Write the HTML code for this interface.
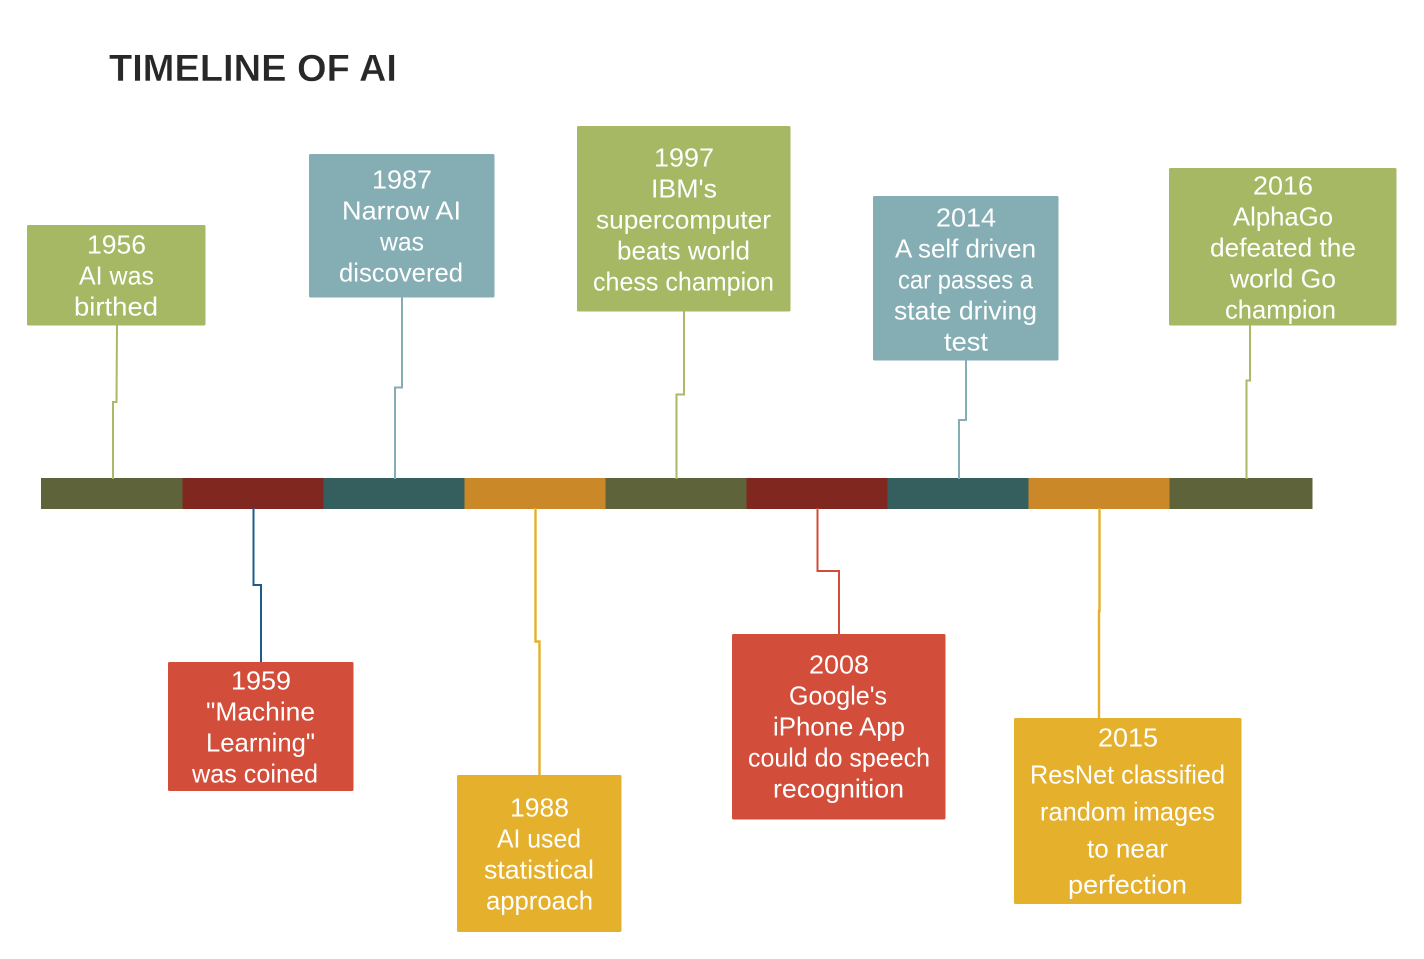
<!DOCTYPE html>
<html lang="en">
<head>
<meta charset="utf-8">
<title>Timeline of AI</title>
<style>
html,body{margin:0;padding:0;background:#fff;width:1424px;height:959px;overflow:hidden}
svg{display:block}
text{font-family:"Liberation Sans",sans-serif}
.t text{fill:#fff;font-size:26px;text-anchor:middle}
path{fill:none;stroke-width:2}
</style>
</head>
<body>
<svg width="1424" height="959" viewBox="0 0 1424 959" xmlns="http://www.w3.org/2000/svg">
<rect width="1424" height="959" fill="#fff"/>
<text x="109" y="81" font-size="38" font-weight="bold" fill="#282828" stroke="#fff" stroke-width="0.4" textLength="288" lengthAdjust="spacingAndGlyphs">TIMELINE OF AI</text>

<!-- bar -->
<rect x="41" y="478" width="141.5" height="31" fill="#5f6339"/>
<rect x="182.500" y="478" width="141" height="31" fill="#802820"/>
<rect x="323.500" y="478" width="141" height="31" fill="#355e5f"/>
<rect x="464.500" y="478" width="141" height="31" fill="#cb8829"/>
<rect x="605.500" y="478" width="141" height="31" fill="#5f6339"/>
<rect x="746.500" y="478" width="141" height="31" fill="#802820"/>
<rect x="887.500" y="478" width="141" height="31" fill="#355e5f"/>
<rect x="1028.500" y="478" width="141" height="31" fill="#cb8829"/>
<rect x="1169.500" y="478" width="143" height="31" fill="#5f6339"/>

<!-- connectors -->
<path d="M117 325L116.500 402H113V479" stroke="#a9ba68"/>
<path d="M402 297V387.500H395V479" stroke="#85aeb4"/>
<path d="M684 311V394.500H676.500V479" stroke="#a9ba68"/>
<path d="M966 360V420H959V479" stroke="#85aeb4"/>
<path d="M1250 325V380.500H1246.500V479" stroke="#a9ba68"/>
<path d="M253.500 508V585H261V662" stroke="#1b5c8a"/>
<path d="M535.500 508V641.500H539.500V775" stroke="#e5b02b" style="stroke-width:2.400"/>
<path d="M817.500 508V571H839V634" stroke="#d34c3a"/>
<path d="M1099.500 508V611H1099V718" stroke="#e5b02b" style="stroke-width:2.400"/>

<!-- boxes -->
<rect x="27" y="225" width="178.500" height="100.500" rx="1.500" fill="#a6b864"/>
<rect x="309" y="154" width="185.500" height="143.500" rx="1.500" fill="#85aeb4"/>
<rect x="577" y="126" width="213.500" height="185.500" rx="1.500" fill="#a6b864"/>
<rect x="873" y="196" width="185.500" height="164.500" rx="1.500" fill="#85aeb4"/>
<rect x="1169" y="168" width="227.500" height="157.500" rx="1.500" fill="#a6b864"/>
<rect x="168" y="662" width="185.500" height="129" rx="1.500" fill="#d24d3a"/>
<rect x="457" y="775" width="164.500" height="157" rx="1.500" fill="#e5b02b"/>
<rect x="732" y="634" width="213.500" height="185.500" rx="1.500" fill="#d24d3a"/>
<rect x="1014" y="718" width="227.500" height="186" rx="1.500" fill="#e5b02b"/>

<g class="t">
<text x="116.500" y="253.500" textLength="59" lengthAdjust="spacingAndGlyphs">1956</text>
<text x="116.500" y="284.500" textLength="75" lengthAdjust="spacingAndGlyphs">AI was</text>
<text x="116" y="315.500" textLength="84" lengthAdjust="spacingAndGlyphs">birthed</text>

<text x="402" y="188.500" textLength="60" lengthAdjust="spacingAndGlyphs">1987</text>
<text x="401.500" y="219.500" textLength="119" lengthAdjust="spacingAndGlyphs">Narrow AI</text>
<text x="402" y="250.500" textLength="44" lengthAdjust="spacingAndGlyphs">was</text>
<text x="401" y="281.500" textLength="124" lengthAdjust="spacingAndGlyphs">discovered</text>

<text x="684" y="166.500" textLength="60" lengthAdjust="spacingAndGlyphs">1997</text>
<text x="684" y="197.500" textLength="66" lengthAdjust="spacingAndGlyphs">IBM's</text>
<text x="683.500" y="228.500" textLength="175" lengthAdjust="spacingAndGlyphs">supercomputer</text>
<text x="683.500" y="259.500" textLength="133" lengthAdjust="spacingAndGlyphs">beats world</text>
<text x="683.500" y="290.500" textLength="181" lengthAdjust="spacingAndGlyphs">chess champion</text>

<text x="966" y="226.500" textLength="60" lengthAdjust="spacingAndGlyphs">2014</text>
<text x="965.500" y="257.500" textLength="141" lengthAdjust="spacingAndGlyphs">A self driven</text>
<text x="965.500" y="288.500" textLength="135" lengthAdjust="spacingAndGlyphs">car passes a</text>
<text x="965.500" y="319.500" textLength="143" lengthAdjust="spacingAndGlyphs">state driving</text>
<text x="966" y="350.500" textLength="44" lengthAdjust="spacingAndGlyphs">test</text>

<text x="1283" y="194.500" textLength="60" lengthAdjust="spacingAndGlyphs">2016</text>
<text x="1283" y="225.500" textLength="100" lengthAdjust="spacingAndGlyphs">AlphaGo</text>
<text x="1283" y="256.500" textLength="146" lengthAdjust="spacingAndGlyphs">defeated the</text>
<text x="1283" y="287.500" textLength="106" lengthAdjust="spacingAndGlyphs">world Go</text>
<text x="1280.500" y="318.500" textLength="111" lengthAdjust="spacingAndGlyphs">champion</text>

<text x="261" y="689.500" textLength="60" lengthAdjust="spacingAndGlyphs">1959</text>
<text x="260.500" y="720.500" textLength="109" lengthAdjust="spacingAndGlyphs">"Machine</text>
<text x="260.500" y="751.500" textLength="109" lengthAdjust="spacingAndGlyphs">Learning"</text>
<text x="255" y="782.500" textLength="126" lengthAdjust="spacingAndGlyphs">was coined</text>

<text x="539.500" y="816.500" textLength="59" lengthAdjust="spacingAndGlyphs">1988</text>
<text x="539" y="847.500" textLength="84" lengthAdjust="spacingAndGlyphs">AI used</text>
<text x="539" y="878.500" textLength="110" lengthAdjust="spacingAndGlyphs">statistical</text>
<text x="539.500" y="909.500" textLength="107" lengthAdjust="spacingAndGlyphs">approach</text>

<text x="839" y="673.500" textLength="60" lengthAdjust="spacingAndGlyphs">2008</text>
<text x="838" y="704.500" textLength="98" lengthAdjust="spacingAndGlyphs">Google's</text>
<text x="839" y="735.500" textLength="132" lengthAdjust="spacingAndGlyphs">iPhone App</text>
<text x="839" y="766.500" textLength="182" lengthAdjust="spacingAndGlyphs">could do speech</text>
<text x="838.500" y="797.500" textLength="131" lengthAdjust="spacingAndGlyphs">recognition</text>

<text x="1128" y="746.500" textLength="60" lengthAdjust="spacingAndGlyphs">2015</text>
<text x="1127.500" y="783.500" textLength="195" lengthAdjust="spacingAndGlyphs">ResNet classified</text>
<text x="1127.500" y="820.500" textLength="175" lengthAdjust="spacingAndGlyphs">random images</text>
<text x="1127.500" y="857.500" textLength="81" lengthAdjust="spacingAndGlyphs">to near</text>
<text x="1127.500" y="893.500" textLength="119" lengthAdjust="spacingAndGlyphs">perfection</text>
</g>
</svg>
</body>
</html>
